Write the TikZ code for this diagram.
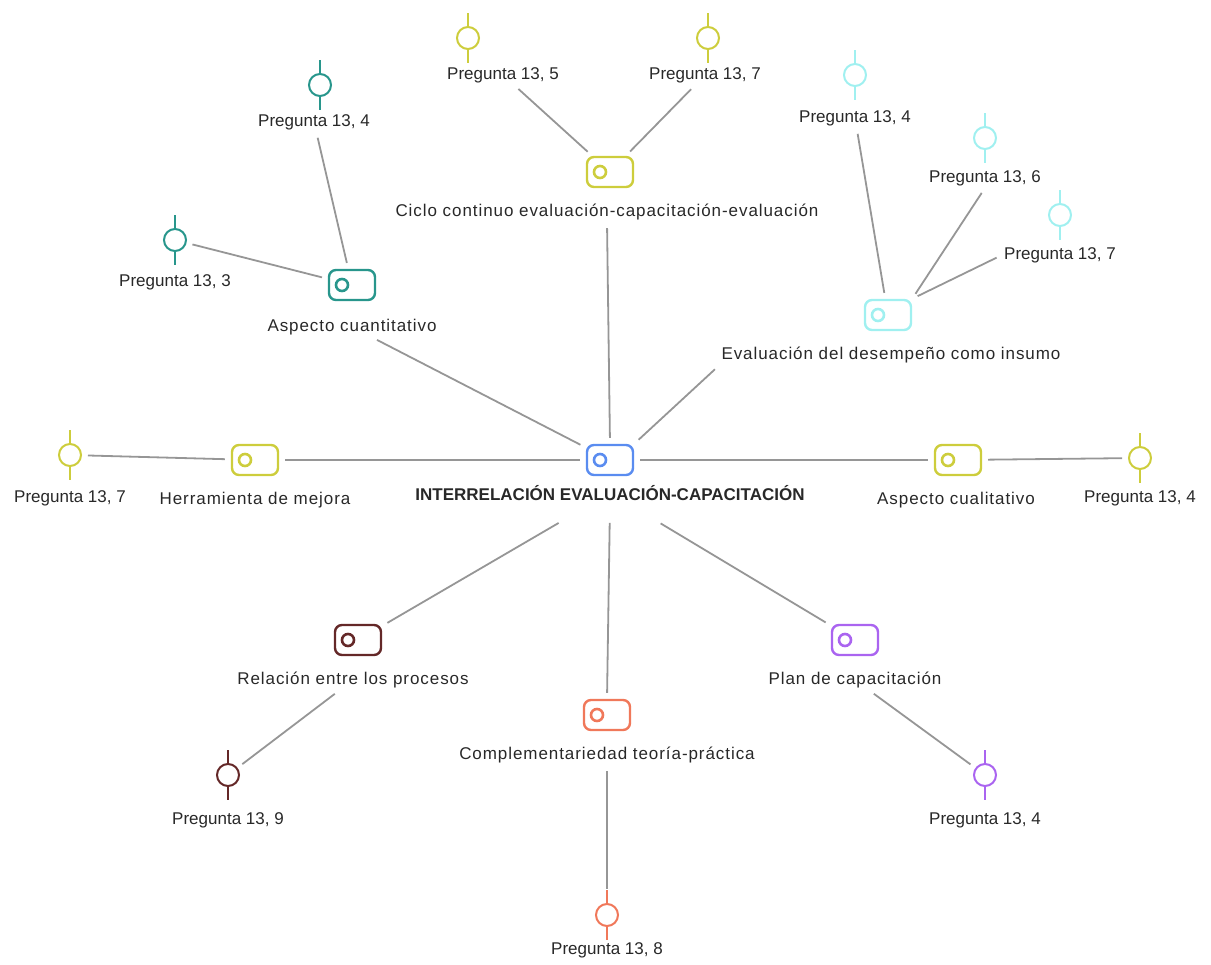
\documentclass[tikz,border=0pt]{standalone}
\usepackage{fontspec}
\setmainfont{Liberation Sans}
\newfontfamily\spacedfont{Liberation Sans}[LetterSpace=5.5]
\usetikzlibrary{positioning}
\definecolor{mapBlue}{RGB}{90,140,240}
\definecolor{mapYellow}{RGB}{205,205,60}
\definecolor{mapTeal}{RGB}{40,150,140}
\definecolor{mapCyan}{RGB}{160,240,240}
\definecolor{mapMaroon}{RGB}{100,40,40}
\definecolor{mapSalmon}{RGB}{240,120,90}
\definecolor{mapPurple}{RGB}{170,100,240}
\definecolor{mapLine}{RGB}{150,150,150}
\definecolor{mapText}{RGB}{40,40,40}

\tikzset{
  codeicon/.style={draw=#1, line width=2.4pt, rounded corners=7pt, minimum width=46pt, minimum height=30pt, inner sep=0pt,
    path picture={\draw[#1, line width=2.6pt] ([xshift=13pt]path picture bounding box.west) circle (6pt);}},
  quoteicon/.style={circle, draw=#1, line width=2pt, minimum size=22pt, inner sep=0pt,
    append after command={(\tikzlastnode.north) edge[draw=#1, line width=2pt] ++(0,13pt)
      (\tikzlastnode.south) edge[draw=#1, line width=2pt] ++(0,-13pt)}},
  maptext/.style={text=mapText, font=\fontsize{17}{20}\spacedfont, inner sep=2pt},
  quotetext/.style={maptext, font=\fontsize{17}{20}\selectfont},
  maptitle/.style={maptext, font=\fontsize{17}{20}\selectfont\bfseries},
  link/.style={draw=mapLine, line width=1.8pt, shorten <=6pt, shorten >=6pt}
}

\begin{document}
\begin{tikzpicture}[x=1pt, y=-1pt, node distance=40pt]
\useasboundingbox (0,0) rectangle (1211,965);

% centre
\node[codeicon=mapBlue] (centre) at (610,460) {};
\node[maptitle, below of=centre, yshift=7pt] (centreL) {INTERRELACIÓN EVALUACIÓN-CAPACITACIÓN};

% ciclo
\node[codeicon=mapYellow] (ciclo) at (610,172) {};
\node[maptext, below of=ciclo, xshift=-3pt] (cicloL) {Ciclo continuo evaluación-capacitación-evaluación};
\node[quoteicon=mapYellow] (qa) at (468,38) {};
\node[quotetext, below of=qa, xshift=35pt, yshift=3pt] (qaL) {Pregunta 13, 5};
\node[quoteicon=mapYellow] (qb) at (708,38) {};
\node[quotetext, below of=qb, xshift=-3pt, yshift=3pt] (qbL) {Pregunta 13, 7};

% aspecto cuantitativo
\node[codeicon=mapTeal] (cuant) at (352,285) {};
\node[maptext, below of=cuant, yshift=-2pt] (cuantL) {Aspecto cuantitativo};
\node[quoteicon=mapTeal] (qc) at (320,85) {};
\node[quotetext, below of=qc, xshift=-6pt, yshift=3pt] (qcL) {Pregunta 13, 4};
\node[quoteicon=mapTeal] (qd) at (175,240) {};
\node[quotetext, below of=qd, yshift=-2pt] (qdL) {Pregunta 13, 3};

% evaluacion del desempeno
\node[codeicon=mapCyan] (desemp) at (888,315) {};
\node[maptext, below of=desemp, xshift=3pt] (desempL) {Evaluación del desempeño como insumo};
\node[quoteicon=mapCyan] (qe) at (855,75) {};
\node[quotetext, below of=qe, yshift=-3pt] (qeL) {Pregunta 13, 4};
\node[quoteicon=mapCyan] (qf) at (985,138) {};
\node[quotetext, below of=qf] (qfL) {Pregunta 13, 6};
\node[quoteicon=mapCyan] (qg) at (1060,215) {};
\node[quotetext, below of=qg] (qgL) {Pregunta 13, 7};

% herramienta de mejora
\node[codeicon=mapYellow] (herr) at (255,460) {};
\node[maptext, below of=herr] (herrL) {Herramienta de mejora};
\node[quoteicon=mapYellow] (qh) at (70,455) {};
\node[quotetext, below of=qh, yshift=-3pt] (qhL) {Pregunta 13, 7};

% aspecto cualitativo
\node[codeicon=mapYellow] (cual) at (958,460) {};
\node[maptext, below of=cual, xshift=-2pt] (cualL) {Aspecto cualitativo};
\node[quoteicon=mapYellow] (qi) at (1140,458) {};
\node[quotetext, below of=qi] (qiL) {Pregunta 13, 4};

% relacion entre los procesos
\node[codeicon=mapMaroon] (rel) at (358,640) {};
\node[maptext, below of=rel, xshift=-5pt] (relL) {Relación entre los procesos};
\node[quoteicon=mapMaroon] (qj) at (228,775) {};
\node[quotetext, below of=qj, yshift=-5pt] (qjL) {Pregunta 13, 9};

% complementariedad
\node[codeicon=mapSalmon] (comp) at (607,715) {};
\node[maptext, below of=comp] (compL) {Complementariedad teoría-práctica};
\node[quoteicon=mapSalmon] (qk) at (607,915) {};
\node[quotetext, below of=qk, yshift=5pt] (qkL) {Pregunta 13, 8};

% plan de capacitacion
\node[codeicon=mapPurple] (plan) at (855,640) {};
\node[maptext, below of=plan] (planL) {Plan de capacitación};
\node[quoteicon=mapPurple] (ql) at (985,775) {};
\node[quotetext, below of=ql, yshift=-5pt] (qlL) {Pregunta 13, 4};

% links
\draw[link] (cicloL.south) -- (centre.north);
\draw[link] (qaL) -- (ciclo);
\draw[link] (qbL) -- (ciclo);
\draw[link] (qcL) -- (cuant);
\draw[link] (qd) -- (cuant);
\draw[link] (cuantL) -- (centre);
\draw[link] (qeL) -- (desemp);
\draw[link] (qfL.south) -- (desemp.north east);
\draw[link] (qgL.west) -- (desemp.north east);
\draw[link] (desempL.south west) -- (centre.north east);
\draw[link] (qh) -- (herr);
\draw[link] (herr) -- (centre);
\draw[link] (centre) -- (cual);
\draw[link] (cual) -- (qi);
\draw[link, shorten <=40pt] (centreL) -- (rel);
\draw[link] (relL) -- (qj);
\draw[link, shorten <=20pt] (centreL.south) -- (comp.north);
\draw[link, shorten >=14pt] (compL.south) -- (qk.north);
\draw[link, shorten <=40pt] (centreL) -- (plan);
\draw[link] (planL) -- (ql);
\end{tikzpicture}
\end{document}
